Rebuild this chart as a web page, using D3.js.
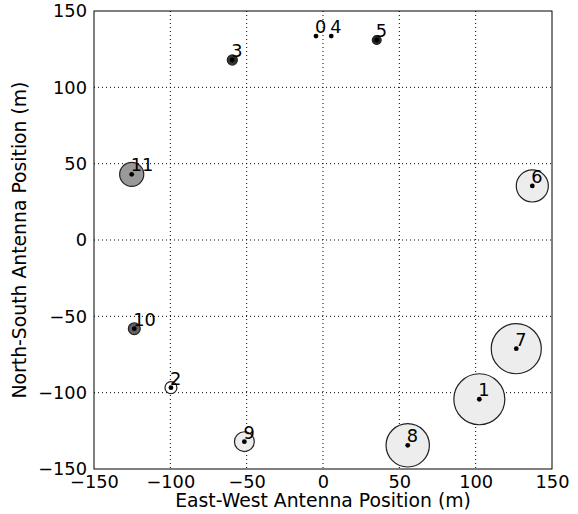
<!DOCTYPE html>
<html>
<head>
<meta charset="utf-8">
<script src="https://cdn.jsdelivr.net/npm/d3@7"></script>
<style>
  body { margin: 0; background: #fff; }
  text { font-family: "DejaVu Sans", sans-serif; fill: #000; }
</style>
</head>
<body>
<svg id="chart" width="578" height="514"></svg>
<script>
// antenna layout
var antennaIds = [0, 1, 2, 3, 4, 5, 6, 7, 8, 9, 10, 11];
var eastWest   = [-4.6, 102.4, -99.6, -59.4, 5.4, 35.2, 137.1, 126.6, 55.5, -51.5, -123.6, -125.3];
var northSouth = [133.6, -104.3, -96.7, 117.9, 133.6, 131.0, 35.4, -71.2, -134.5, -132.1, -58.1, 43.0];
// circle radius in metres (0 = no circle) and grey level of its fill (1 = white)
var radiusM    = [0, 16.7, 3.9, 3.3, 0, 2.9, 10.5, 16.4, 14.2, 6.5, 3.9, 7.9];
var greyLevel  = [1, 0.93, 1, 0.2, 1, 0.15, 0.93, 0.93, 0.93, 0.93, 0.38, 0.6];
var tickValues = [-150, -100, -50, 0, 50, 100, 150];

var svg = d3.select('#chart'),
    margin = { left: 94, top: 11, right: 26, bottom: 45 },
    width = 578 - margin.left - margin.right,
    height = 514 - margin.top - margin.bottom,
    tickFont = 17.8,
    labelFont = 18.8;

var x = d3.scaleLinear().domain([-150, 150]).range([0, width]);
var y = d3.scaleLinear().domain([-150, 150]).range([height, 0]);
var grey = d3.scaleLinear().domain([0, 1]).range(['#000', '#fff']);
var fmt = function( d ){ return d < 0 ? '\u2212' + Math.abs(d) : String(d); };

var g = svg.append('g').attr('transform', 'translate(' + margin.left + ',' + margin.top + ')');

// dotted grid
g.append('g').selectAll('line.gx')
    .data(tickValues.slice(1, -1)).enter().append('line')
    .attr('x1', x).attr('x2', x).attr('y1', 0).attr('y2', height)
    .attr('stroke', '#000').attr('stroke-width', 1).attr('stroke-dasharray', '1,3');
g.append('g').selectAll('line.gy')
    .data(tickValues.slice(1, -1)).enter().append('line')
    .attr('y1', y).attr('y2', y).attr('x1', 0).attr('x2', width)
    .attr('stroke', '#000').attr('stroke-width', 1).attr('stroke-dasharray', '1,3');

// axes
var xAxis = d3.axisBottom(x).tickValues(tickValues).tickFormat(fmt).tickSize(0).tickPadding(6);
var yAxis = d3.axisLeft(y).tickValues(tickValues).tickFormat(fmt).tickSize(0).tickPadding(7);

var gx = g.append('g').attr('transform', 'translate(0,' + height + ')').call(xAxis);
var gy = g.append('g').call(yAxis);
[gx, gy].forEach(function( a ){
    a.select('.domain').remove();
    a.selectAll('text').style('font-size', tickFont + 'px').attr('fill', '#000');
});

// frame
g.append('rect').attr('width', width).attr('height', height)
    .attr('fill', 'none').attr('stroke', '#000').attr('stroke-width', 1);

// antennas
var nodes = antennaIds.map(function( id, i ){
    return { id: id, e: eastWest[i], n: northSouth[i], r: radiusM[i], shade: greyLevel[i] };
});

g.append('g').selectAll('circle.ring')
    .data(nodes.filter(function( d ){ return d.r > 0; })).enter().append('circle')
    .attr('cx', function( d ){ return x(d.e); })
    .attr('cy', function( d ){ return y(d.n); })
    .attr('r', function( d ){ return x(d.r) - x(0); })
    .attr('fill', function( d ){ return grey(d.shade); })
    .attr('stroke', '#222').attr('stroke-width', 1.2);

g.append('g').selectAll('circle.dot')
    .data(nodes).enter().append('circle')
    .attr('cx', function( d ){ return x(d.e); })
    .attr('cy', function( d ){ return y(d.n); })
    .attr('r', 2.4).attr('fill', '#000');

g.append('g').selectAll('text.lbl')
    .data(nodes).enter().append('text')
    .attr('x', function( d ){ return x(d.e) - 1; })
    .attr('y', function( d ){ return y(d.n) - 3; })
    .style('font-size', tickFont + 'px')
    .text(function( d ){ return d.id; });

// axis labels
svg.append('text')
    .attr('x', margin.left + width / 2).attr('y', 507)
    .attr('text-anchor', 'middle').style('font-size', labelFont + 'px')
    .text('East-West Antenna Position (m)');
svg.append('text')
    .attr('transform', 'translate(26,' + (margin.top + height / 2) + ') rotate(-90)')
    .attr('text-anchor', 'middle').style('font-size', labelFont + 'px')
    .text('North-South Antenna Position (m)');
</script>
</body>
</html>
